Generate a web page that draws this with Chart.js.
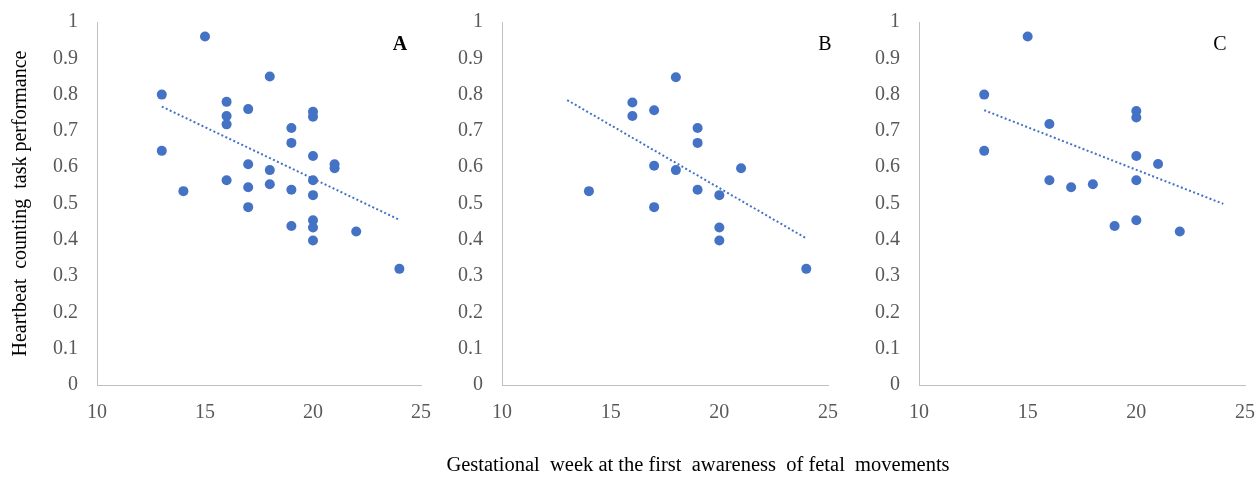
<!DOCTYPE html>
<html>
<head>
<meta charset="utf-8">
<script src="https://cdn.jsdelivr.net/npm/chart.js@4.4.1/dist/chart.umd.min.js"></script>
<style>
  html, body { margin:0; padding:0; background:#fff; }
  #wrap { position:relative; width:1255px; height:477px; overflow:hidden; }
  canvas { position:absolute; top:0; }
  #xtitle { position:absolute; left:0; width:1396px; top:453px; text-align:center;
    font-family:'Liberation Serif','Times New Roman',serif; font-size:20.5px; color:#000; white-space:pre; }
</style>
</head>
<body>
<div id="wrap">
  <canvas id="cA" width="440" height="477" style="left:0px"></canvas>
  <canvas id="cB" width="400" height="477" style="left:440px"></canvas>
  <canvas id="cC" width="415" height="477" style="left:840px"></canvas>
  <div id="xtitle">Gestational  week at the first  awareness  of fetal  movements</div>
</div>
<script>
// ---- Data ----
const weeksA = [15,18,13,16,17,20,20,16,16,19,19,13,20,17,21,21,18,16,20,18,17,19,14,20,17,19,20,20,22,20,24];
const perfA  = [0.96,0.85,0.80,0.78,0.76,0.753,0.739,0.741,0.718,0.708,0.667,0.645,0.631,0.608,0.608,0.597,0.592,0.564,0.564,0.553,0.545,0.538,0.534,0.523,0.49,0.438,0.454,0.434,0.423,0.398,0.32];

const weeksB = [18,16,16,17,19,19,17,18,21,14,19,20,17,20,20,24];
const perfB  = [0.848,0.778,0.741,0.757,0.708,0.667,0.604,0.592,0.597,0.534,0.538,0.523,0.49,0.434,0.398,0.32];

const weeksC = [15,13,20,20,16,13,20,21,16,17,18,20,19,20,22];
const perfC  = [0.96,0.80,0.755,0.737,0.719,0.645,0.631,0.609,0.564,0.545,0.553,0.564,0.438,0.454,0.423];

// Linear trendline end points (x, y) as drawn in the reference
const trendXA = [13, 24], trendYA = [0.767, 0.455];
const trendXB = [13, 24], trendYB = [0.785, 0.404];
const trendXC = [13, 24], trendYC = [0.757, 0.499];

const panelLabels = ['A', 'B', 'C'];
const yTitle = 'Heartbeat  counting  task performance';
const xTickValues = [10, 15, 20, 25];
const yTickLabels = ['0','0.1','0.2','0.3','0.4','0.5','0.6','0.7','0.8','0.9','1'];

// ---- Styling ----
const SERIF = "'Liberation Serif','Times New Roman',serif";
const BLUE = '#4472C4';
const AXIS = '#BFBFBF';
const TICK = '#595959';

function pts(xs, ys){ return xs.map((x,i)=>({x:x, y:ys[i]})); }

function makeChart(id, xs, ys, txs, tys, cfg){
  const labelPlugin = {
    id: 'panelLabel',
    afterDraw(chart){
      const c = chart.ctx;
      c.save();
      c.font = (cfg.bold ? 'bold ' : '') + '20px ' + SERIF;
      c.fillStyle = '#000';
      c.textAlign = 'center';
      c.textBaseline = 'middle';
      c.fillText(cfg.label, cfg.labelX, 45);
      c.restore();
    }
  };
  return new Chart(document.getElementById(id), {
    type: 'scatter',
    data: {
      datasets: [
        { data: pts(xs, ys), backgroundColor: BLUE, borderColor: BLUE, pointRadius: 5, pointBorderWidth: 0, order: 1 },
        { type: 'line', data: pts(txs, tys), borderColor: BLUE, borderWidth: 2, borderDash: [2, 2.4],
          pointRadius: 0, fill: false, tension: 0, order: 2 }
      ]
    },
    options: {
      responsive: false,
      animation: false,
      events: [],
      layout: { padding: { left: 0, right: cfg.padRight, top: 22, bottom: 0 } },
      plugins: { legend: { display: false }, tooltip: { enabled: false } },
      scales: {
        x: {
          type: 'linear', min: 10, max: 25,
          afterBuildTicks: s => { s.ticks = xTickValues.map(v => ({value: v})); },
          afterFit: s => { s.height = 92; s.paddingLeft = 0; s.paddingRight = 0; },
          grid: { display: false, drawTicks: false },
          border: { display: true, color: AXIS, width: 1 },
          ticks: { color: TICK, padding: 16, font: { family: SERIF, size: 20 }, maxRotation: 0 }
        },
        y: {
          type: 'linear', min: 0, max: 1,
          afterBuildTicks: s => { s.ticks = yTickLabels.map(l => ({value: parseFloat(l)})); },
          afterFit: s => { s.width = cfg.axisLeft; s.paddingTop = 0; s.paddingBottom = 0; },
          grid: { display: false, drawTicks: false },
          border: { display: true, color: AXIS, width: 1 },
          ticks: { color: TICK, padding: 19, font: { family: SERIF, size: 20 },
                   callback: (v, i) => yTickLabels[i] },
          title: cfg.showTitle ? { display: true, text: yTitle, color: '#000',
                   font: { family: SERIF, size: 20 }, padding: { top: 9, bottom: 0 } } : { display: false }
        }
      }
    },
    plugins: [labelPlugin]
  });
}

makeChart('cA', weeksA, perfA, trendXA, trendYA, { axisLeft: 97, padRight: 19, showTitle: true, label: panelLabels[0], labelX: 400, bold: true });
makeChart('cB', weeksB, perfB, trendXB, trendYB, { axisLeft: 62, padRight: 12, showTitle: false, label: panelLabels[1], labelX: 385, bold: false });
makeChart('cC', weeksC, perfC, trendXC, trendYC, { axisLeft: 79, padRight: 10, showTitle: false, label: panelLabels[2], labelX: 380, bold: false });
</script>
</body>
</html>
